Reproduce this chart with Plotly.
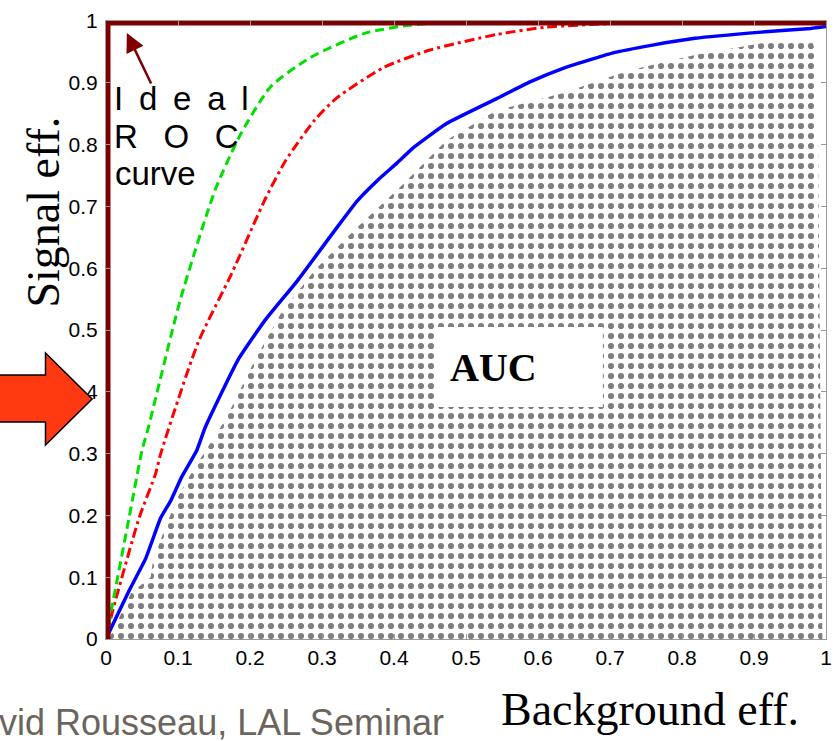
import plotly.graph_objects as go

# ---------------- data ----------------
tick_vals = [0, 0.1, 0.2, 0.3, 0.4, 0.5, 0.6, 0.7, 0.8, 0.9, 1]
tick_text = ["0", "0.1", "0.2", "0.3", "0.4", "0.5", "0.6", "0.7", "0.8", "0.9", "1"]

ideal_x = [0, 0, 1]
ideal_y = [0, 1, 1]

green_x = [0, 0.008, 0.032, 0.050, 0.059, 0.103, 0.152, 0.188, 0.229, 0.284, 0.359, 0.420, 0.477, 0.520, 1.0]
green_y = [0, 0.050, 0.196, 0.305, 0.343, 0.548, 0.728, 0.819, 0.894, 0.941, 0.980, 0.993, 0.998, 1.0, 1.0]

red_x = [0, 0.008, 0.046, 0.069, 0.076, 0.128, 0.174, 0.222, 0.250, 0.290, 0.321, 0.386, 0.450, 0.542, 0.611, 0.721, 0.760, 1.0]
red_y = [0, 0.040, 0.196, 0.268, 0.300, 0.480, 0.590, 0.714, 0.775, 0.840, 0.876, 0.925, 0.953, 0.978, 0.990, 0.997, 1.0, 1.0]

blue_x = [0, 0.004, 0.032, 0.055, 0.076, 0.090, 0.105, 0.126, 0.138, 0.183, 0.221, 0.266, 0.317, 0.349,
          0.377, 0.404, 0.427, 0.473, 0.542, 0.588, 0.634, 0.703, 0.759, 0.818, 0.910, 0.979, 1.0]
blue_y = [0, 0.010, 0.078, 0.130, 0.196, 0.224, 0.262, 0.305, 0.343, 0.451, 0.516, 0.580, 0.660, 0.709,
          0.742, 0.770, 0.795, 0.834, 0.874, 0.901, 0.923, 0.948, 0.961, 0.972, 0.982, 0.988, 0.991]

auc_x = [0.004, 0.035, 0.062, 0.065, 0.082, 0.100, 0.119, 0.166, 0.207, 0.243, 0.290, 0.345, 0.410,
         0.473, 0.542, 0.634, 0.726, 0.818, 0.910, 0.981, 0.988, 0.991, 0.995, 0.004]
auc_y = [0.0, 0.075, 0.100, 0.125, 0.180, 0.230, 0.270, 0.355, 0.452, 0.527, 0.597, 0.662, 0.733,
         0.807, 0.855, 0.883, 0.920, 0.945, 0.964, 0.969, 0.935, 0.500, 0.0, 0.0]

# ---------------- layout geometry ----------------
W, H = 840, 741
ML, MR, MT, MB = 106, 8, 21, 102
PW, PH = W - ML - MR, H - MT - MB


def pxx(x):
    return (x - ML) / PW


def pxy(y):
    return (H - MB - y) / PH


fig = go.Figure()

fig.add_trace(go.Scatter(
    x=auc_x, y=auc_y, mode="lines", fill="toself",
    line=dict(width=0, color="rgba(0,0,0,0)"),
    fillcolor="white",
    fillpattern=dict(shape=".", size=10, solidity=0.3, fgcolor="#000000", bgcolor="white"),
    hoverinfo="skip"))

fig.add_trace(go.Scatter(x=blue_x, y=blue_y, mode="lines",
                         line=dict(color="#0000ff", width=3.5, shape="spline", smoothing=0.4)))
fig.add_trace(go.Scatter(x=red_x, y=red_y, mode="lines",
                         line=dict(color="#ff0000", width=3, dash="10px,4px,3px,4px",
                                   shape="spline", smoothing=0.6)))
fig.add_trace(go.Scatter(x=green_x, y=green_y, mode="lines",
                         line=dict(color="#00e000", width=3, dash="9px,5px",
                                   shape="spline", smoothing=0.6)))
fig.add_trace(go.Scatter(x=ideal_x, y=ideal_y, mode="lines",
                         line=dict(color="#7f0000", width=9)))

axis_common = dict(
    range=[0, 1], tickvals=tick_vals, ticktext=tick_text,
    ticks="inside", ticklen=5, tickcolor="#999999", tickwidth=1,
    showline=True, linecolor="#999999", linewidth=1, mirror="ticks",
    showgrid=False, zeroline=False,
    tickfont=dict(family="Arial", size=21, color="black"),
)

fig.update_layout(
    width=W, height=H,
    margin=dict(l=ML, r=MR, t=MT, b=MB, pad=0),
    plot_bgcolor="white", paper_bgcolor="white",
    showlegend=False,
    xaxis=dict(**axis_common),
    yaxis=dict(**axis_common, ticklabelstandoff=3),
)

# red block arrow at the left
pts = [(-5, 375), (45, 375), (45, 353), (92, 399), (45, 445), (45, 422), (-5, 422)]
path = "M " + " L ".join(f"{pxx(a):.5f},{pxy(b):.5f}" for a, b in pts) + " Z"
fig.add_shape(type="path", path=path, xref="paper", yref="paper",
              fillcolor="#ff3a10", line=dict(color="black", width=1.5), layer="above")

# white box behind AUC
fig.add_shape(type="rect", xref="paper", yref="paper",
              x0=pxx(440), x1=pxx(607), y0=pxy(407), y1=pxy(327),
              fillcolor="white", line=dict(width=0), layer="above")

ann = []
ann.append(dict(text="<b>AUC</b>", x=pxx(497), y=pxy(367), xref="paper", yref="paper",
                xanchor="center", yanchor="middle", showarrow=False,
                font=dict(family="Times New Roman", size=40, color="black")))
ann.append(dict(text="I\u00a0\u2009d\u00a0\u2009e\u00a0\u2009a\u00a0\u2009l", x=pxx(112), y=pxy(98.6),
                xref="paper", yref="paper",
                xanchor="left", yanchor="middle", showarrow=False,
                font=dict(family="Arial", size=33, color="black")))
ann.append(dict(text="R\u2002\u00a0O\u2002\u00a0C", x=pxx(112), y=pxy(136.6), xref="paper", yref="paper",
                xanchor="left", yanchor="middle", showarrow=False,
                font=dict(family="Arial", size=33, color="black")))
ann.append(dict(text="curve", x=pxx(113), y=pxy(173.6), xref="paper", yref="paper",
                xanchor="left", yanchor="middle", showarrow=False,
                font=dict(family="Arial", size=33, color="black")))
ann.append(dict(text="", x=pxx(127), y=pxy(33), xref="paper", yref="paper",
                showarrow=True, ax=25, ay=52, arrowhead=2, arrowsize=1.5, arrowwidth=2.5,
                arrowcolor="#7f0000", standoff=0))
ann.append(dict(text="Background eff.", x=pxx(655), y=pxy(709.5), xref="paper", yref="paper",
                xanchor="center", yanchor="middle", showarrow=False,
                font=dict(family="Times New Roman", size=46, color="black")))
ann.append(dict(text="Signal eff.", x=pxx(42), y=pxy(212), xref="paper", yref="paper",
                xanchor="center", yanchor="middle", showarrow=False, textangle=-90,
                font=dict(family="Times New Roman", size=46, color="black")))
ann.append(dict(text="David Rousseau, LAL Seminar", x=pxx(-50), y=pxy(722), xref="paper", yref="paper",
                xanchor="left", yanchor="middle", showarrow=False,
                font=dict(family="Arial", size=36, color="#6b655e")))
fig.update_layout(annotations=ann)

fig.write_html("out.html", config={"displayModeBar": False},
               post_script="document.body.style.margin='0';document.body.style.padding='0';")
